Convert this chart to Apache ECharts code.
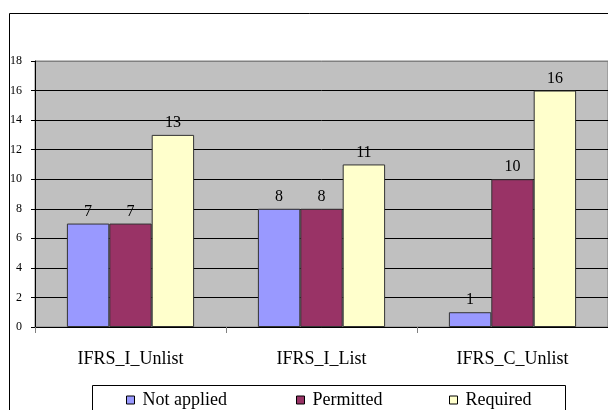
<!DOCTYPE html>
<html>
<head>
<meta charset="utf-8">
<script src="https://cdn.jsdelivr.net/npm/echarts@6/dist/echarts.min.js"></script>
<style>html,body{margin:0;padding:0;background:#fff}#c{width:608px;height:410px}</style>
</head>
<body>
<div id="c"></div>
<script>
var categories = ['IFRS_I_Unlist', 'IFRS_I_List', 'IFRS_C_Unlist'];
var notApplied = [7, 8, 1];
var permitted = [7, 8, 10];
var required = [13, 11, 16];
var seriesNames = ['Not applied', 'Permitted', 'Required'];
var yTicks = [0, 2, 4, 6, 8, 10, 12, 14, 16, 18];

var FONT = 'Liberation Serif';
var colors = ['#9999FF', '#993366', '#FFFFCC'];
var chart = echarts.init(document.getElementById('c'));

function mk(name, data, color) {
  return {
    name: name, type: 'bar', data: data, barGap: '0%', barCategoryGap: '33.4%',
    itemStyle: { color: color, borderColor: '#333', borderWidth: 1 },
    label: { show: true, position: 'top', distance: 4, color: '#000', fontFamily: FONT, fontSize: 16 }
  };
}
var legendPos = [126, 296, 449];
chart.setOption({
  animation: false,
  backgroundColor: '#fff',
  color: colors,
  graphic: [
    { type: 'rect', shape: { x: 9.5, y: 13.5, width: 620, height: 420 }, style: { fill: 'none', stroke: '#000', lineWidth: 1 }, z: 0 },
    { type: 'rect', shape: { x: 92.5, y: 385.5, width: 473, height: 40 }, style: { fill: '#fff', stroke: '#000', lineWidth: 1 }, z: 0 }
  ],
  legend: seriesNames.map(function (n, i) {
    return {
      data: [n], left: legendPos[i], top: 391, itemWidth: 8, itemHeight: 8, icon: 'rect', itemGap: 0,
      textStyle: { fontFamily: FONT, fontSize: 18, color: '#000', padding: [3, 0, 0, 3] },
      itemStyle: { borderColor: '#000', borderWidth: 1 }, padding: 0
    };
  }),
  grid: { left: 35, top: 61, width: 575, height: 266, show: true, backgroundColor: '#C0C0C0', borderColor: '#808080', borderWidth: 1 },
  xAxis: {
    type: 'category', data: categories,
    axisLine: { lineStyle: { color: '#000', width: 1 } },
    axisTick: { show: true, length: 6, lineStyle: { color: '#808080' } },
    axisLabel: { fontFamily: FONT, fontSize: 18, color: '#000', margin: 23 }
  },
  yAxis: {
    type: 'value', min: yTicks[0], max: yTicks[yTicks.length - 1], interval: 2,
    axisLine: { show: true, lineStyle: { color: '#000', width: 1 } },
    axisTick: { show: true, length: 4, lineStyle: { color: '#000' } },
    axisLabel: { fontFamily: FONT, fontSize: 12, color: '#000', margin: 13 },
    splitLine: { show: true, lineStyle: { color: ['#000', '#000', '#000', '#000', '#000', '#000', '#000', '#000', '#000', '#808080'], width: 1 } }
  },
  series: [mk(seriesNames[0], notApplied, colors[0]), mk(seriesNames[1], permitted, colors[1]), mk(seriesNames[2], required, colors[2])]
});
</script>
</body>
</html>
